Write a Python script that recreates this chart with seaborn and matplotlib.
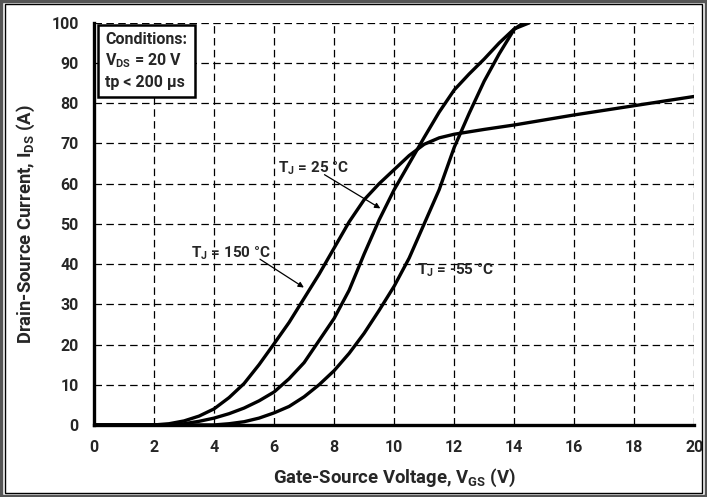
import matplotlib
matplotlib.use('Agg')
import matplotlib.pyplot as plt
import seaborn as sns
from matplotlib.patches import Rectangle

# transfer characteristics
vgs_150 = [0, 2, 2.5, 3, 3.5, 4, 4.5, 5, 5.5, 6, 6.5, 7, 7.5, 8, 8.5, 9, 9.5,
           10, 10.5, 11, 11.5, 12, 13, 14, 16, 18, 20]
ids_150 = [0, 0, 0.3, 1, 2.2, 4, 6.8, 10.3, 15, 20.2, 25.5, 31.5, 37.5, 44, 50.5,
           56, 60, 63.5, 67, 69.8, 71.4, 72.3, 73.5, 74.6, 77.1, 79.4, 81.7]

vgs_25 = [0, 2.5, 3, 3.5, 4, 4.5, 5, 5.5, 6, 6.5, 7, 7.5, 8, 8.5, 9, 9.5, 10,
          10.5, 11, 11.5, 12, 12.5, 13, 13.5, 14, 14.5]
ids_25 = [0, 0, 0.3, 0.9, 1.7, 2.8, 4.2, 6, 8.2, 11.5, 15.5, 21, 26.5, 33.5,
          42.5, 51, 58.5, 65, 71.5, 77.8, 83.3, 87.3, 91, 95, 98.5, 100]

vgs_m55 = [0, 4, 4.5, 5, 5.5, 6, 6.5, 7, 7.5, 8, 8.5, 9, 9.5, 10, 10.5, 11,
           11.5, 12, 12.5, 13, 13.5, 14, 14.3]
ids_m55 = [0, 0, 0.3, 0.8, 1.7, 3, 4.6, 7, 10, 13.5, 17.8, 22.8, 28.5, 34.5,
           41.5, 50, 58.5, 69, 77.5, 85.5, 92.3, 98.4, 100]

x_ticks = list(range(0, 21, 2))
y_ticks = list(range(0, 101, 10))

FONT = 'Roboto'

sns.set_style('white')
plt.rcParams['font.family'] = [FONT, 'DejaVu Sans']
plt.rcParams['font.weight'] = 'bold'
plt.rcParams['mathtext.fontset'] = 'custom'
plt.rcParams['mathtext.rm'] = FONT + ':bold'
plt.rcParams['mathtext.it'] = FONT + ':bold'
plt.rcParams['mathtext.bf'] = FONT + ':bold'
plt.rcParams['mathtext.default'] = 'rm'

fig = plt.figure(figsize=(7.07, 4.97), dpi=100)
ax = fig.add_axes([0.133, 0.145, 0.849, 0.809])

for xs, ys in [(vgs_150, ids_150), (vgs_25, ids_25), (vgs_m55, ids_m55)]:
    sns.lineplot(x=xs, y=ys, ax=ax, color='black', lw=2.4, sort=False,
                 estimator=None, zorder=4)

ax.set_xlim(0, 20)
ax.set_ylim(0, 100)
ax.set_xticks(x_ticks)
ax.set_yticks(y_ticks)
ax.tick_params(labelsize=11.5, length=4, width=2, color='black', pad=7)
for lab in ax.get_xticklabels() + ax.get_yticklabels():
    lab.set_fontweight('bold')

ax.grid(True, color='black', lw=0.9, linestyle=(0, (6, 3.5)))
ax.set_axisbelow(True)
for side in ['top', 'right']:
    ax.spines[side].set_visible(False)
for side in ['left', 'bottom']:
    ax.spines[side].set_linewidth(2.4)
    ax.spines[side].set_color('black')

ax.set_xlabel('Gate-Source Voltage, V$_{GS}$ (V)', fontsize=13.3,
              fontweight='bold', labelpad=8)
ax.set_ylabel('Drain-Source Current, I$_{DS}$ (A)', fontsize=13.3,
              fontweight='bold', labelpad=10)

# conditions box
ax.text(0.38, 97.8, 'Conditions:\nV$_{DS}$ = 20 V\ntp < 200 µs', fontsize=11.5,
        fontweight='bold', va='top', ha='left', linespacing=1.35,
        bbox=dict(boxstyle='square,pad=0.45', fc='white', ec='black', lw=1.8),
        zorder=5)

# curve labels
ax.text(7.3, 63.8, 'T$_J$ = 25 °C', fontsize=11, fontweight='bold',
        ha='center', va='center', zorder=5)
ax.annotate('', xy=(9.62, 53.5), xytext=(7.6, 62.6),
            arrowprops=dict(arrowstyle='-|>', color='black', lw=0.9,
                            mutation_scale=8), zorder=5)
ax.text(4.55, 42.8, 'T$_J$ = 150 °C', fontsize=11, fontweight='bold',
        ha='center', va='center', zorder=5)
ax.annotate('', xy=(7.07, 33.8), xytext=(5.45, 41.6),
            arrowprops=dict(arrowstyle='-|>', color='black', lw=0.9,
                            mutation_scale=8), zorder=5)
ax.text(10.75, 38.5, 'T$_J$ = -55 °C', fontsize=11, fontweight='bold',
        ha='left', va='center', zorder=5)

# double frame round the figure
fig.patches.append(Rectangle((0.002, 0.003), 0.996, 0.994, transform=fig.transFigure,
                             fill=False, ec='#555555', lw=2.5))
fig.patches.append(Rectangle((0.007, 0.009), 0.986, 0.982, transform=fig.transFigure,
                             fill=False, ec='black', lw=1.0))

fig.savefig('out.png', dpi=100)
plt.close(fig)
